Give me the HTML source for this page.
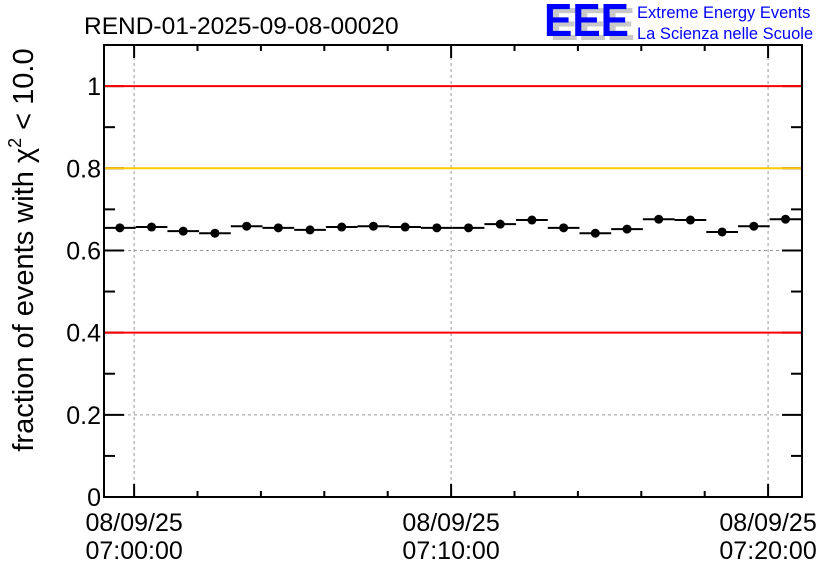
<!DOCTYPE html>
<html><head><meta charset="utf-8"><style>
body{margin:0;background:#fff;}
svg{display:block;font-family:"Liberation Sans",sans-serif;}
</style></head><body>
<svg id="chart" width="836" height="572" viewBox="0 0 836 572">
<text x="84" y="34" font-size="24.5" fill="#000">REND-01-2025-09-08-00020</text>
<g>
<text x="550" y="40" font-size="46" font-weight="bold" fill="#c8c8c8" textLength="85" lengthAdjust="spacingAndGlyphs">EEE</text>
<text x="544" y="36" font-size="46" font-weight="bold" fill="#0000ff" textLength="85" lengthAdjust="spacingAndGlyphs">EEE</text>
<text x="637" y="18" font-size="16.5" fill="#0000ff">Extreme Energy Events</text>
<text x="637" y="39" font-size="16.5" fill="#0000ff">La Scienza nelle Scuole</text>
</g>
<g id="grid"></g><g id="axes"></g><g id="refs"></g><g id="marks"></g>
<text transform="translate(33,250) rotate(-90)" text-anchor="middle" font-size="29" fill="#000">fraction of events with χ<tspan dy="-12" font-size="18">2</tspan><tspan dy="12"> &lt; 10.0</tspan></text>
</svg>
<script>
const values=[0.655,0.657,0.647,0.642,0.659,0.655,0.650,0.657,0.659,0.657,0.655,0.655,0.664,0.674,0.655,0.642,0.652,0.676,0.674,0.645,0.659,0.676];
const binStart=-0.95; // minutes from 07:00:00
const yTicks=[0,0.2,0.4,0.6,0.8,1];
const yTickLabels=["0","0.2","0.4","0.6","0.8","1"];
const xMajor=[0,10,20];
const xLabels1=["08/09/25","08/09/25","08/09/25"];
const xLabels2=["07:00:00","07:10:00","07:20:00"];
const refLines=[1,0.8,0.4];
const refColors=["#ff0000","#ffcc00","#ff0000"];
const L=104,R=802,T=45,B=497;
const xmin=-0.95,xmax=21.07,ymin=0,ymax=1.1;
const X=m=>L+(m-xmin)/(xmax-xmin)*(R-L);
const Y=v=>B-(v-ymin)/(ymax-ymin)*(B-T);
const NS="http://www.w3.org/2000/svg";
function mk(tag,attrs,parent){const e=document.createElementNS(NS,tag);for(const k in attrs)e.setAttribute(k,attrs[k]);document.getElementById(parent).appendChild(e);return e;}
xMajor.forEach(m=>{const e=mk('line',{x1:X(m),x2:X(m),y1:T,y2:B,stroke:'#999','stroke-dasharray':'3,3','stroke-width':1},'grid');

});
yTicks.forEach(v=>{if(v===0)return;const e=mk('line',{x1:L,x2:R,y1:Y(v),y2:Y(v),stroke:'#999','stroke-dasharray':'3,3','stroke-width':1},'grid');

});
const f=mk('rect',{x:L,y:T,width:R-L,height:B-T,fill:'none',stroke:'#000','stroke-width':2},'axes');


for(let k=0;k<=11;k++){const v=k*0.1;const len=(k%2===0)?20:11;
mk('line',{x1:L,x2:L+len,y1:Y(v),y2:Y(v),stroke:'#000','stroke-width':2},'axes');
mk('line',{x1:R,x2:R-len,y1:Y(v),y2:Y(v),stroke:'#000','stroke-width':2},'axes');}
yTicks.forEach((v,i)=>{const t=mk('text',{x:L-3,y:Y(v)+9,'text-anchor':'end','font-size':25,fill:'#000'},'axes');t.textContent=yTickLabels[i];

});
for(let m=0;m<=20;m+=2){const len=(m%10===0)?13:6;
mk('line',{x1:X(m),x2:X(m),y1:B,y2:B-len,stroke:'#000','stroke-width':2},'axes');
mk('line',{x1:X(m),x2:X(m),y1:T,y2:T+len,stroke:'#000','stroke-width':2},'axes');}
xMajor.forEach((m,i)=>{const t=mk('text',{x:X(m),y:531,'text-anchor':'middle','font-size':25,fill:'#000'},'axes');t.textContent=xLabels1[i];


const t2=mk('text',{x:X(m),y:559,'text-anchor':'middle','font-size':25,fill:'#000'},'axes');t2.textContent=xLabels2[i];

});
refLines.forEach((v,i)=>{const e=mk('line',{x1:L+1,x2:R-1,y1:Y(v),y2:Y(v),stroke:refColors[i],'stroke-width':2},'refs');

});
values.forEach((v,i)=>{const a=binStart+i,b=a+1,c=a+0.5;
const l=mk('line',{x1:X(a),x2:X(b),y1:Y(v),y2:Y(v),stroke:'#000','stroke-width':2},'marks');


const p=mk('circle',{cx:X(c),cy:Y(v),r:4.5,fill:'#000'},'marks');

});
</script>
</body></html>
